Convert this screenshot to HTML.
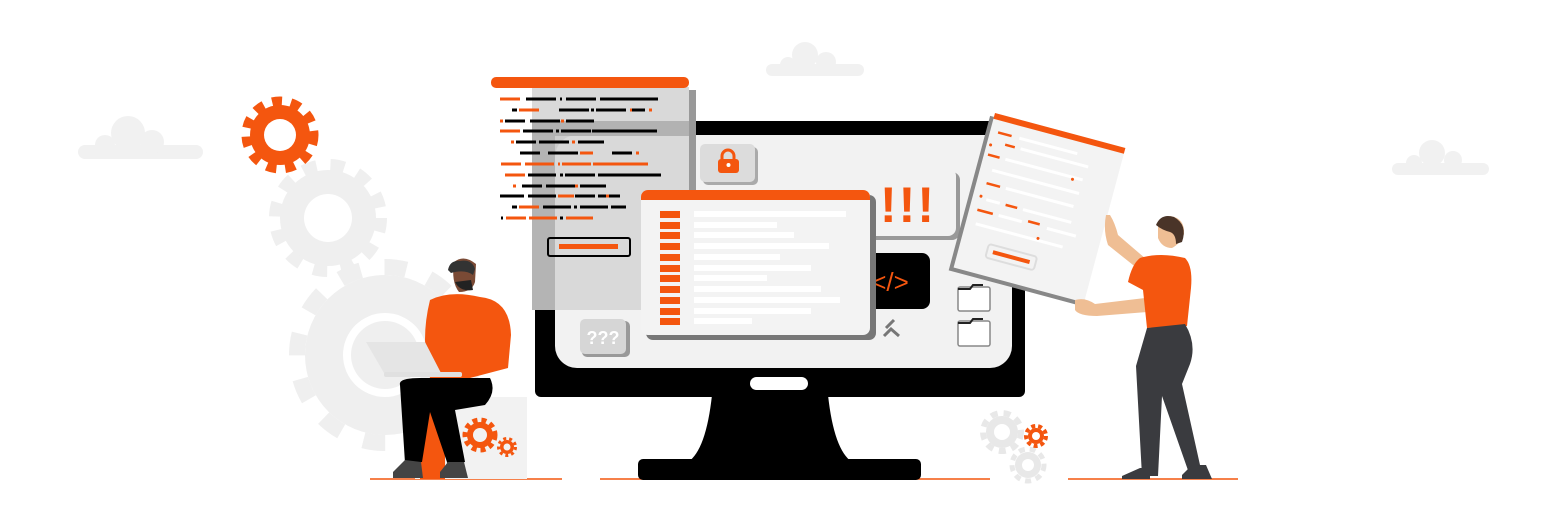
<!DOCTYPE html>
<html><head><meta charset="utf-8"><style>html,body{margin:0;padding:0;background:#fff}svg{display:block}</style></head>
<body>
<svg width="1560" height="511" viewBox="0 0 1560 511" xmlns="http://www.w3.org/2000/svg" font-family="Liberation Sans, sans-serif">
<!-- clouds -->
<g fill="#f1f1f1">
<rect x="78" y="145" width="125" height="14" rx="7"/><circle cx="128" cy="133" r="17"/><circle cx="105" cy="145" r="10"/><circle cx="152" cy="142" r="12"/>
<rect x="766" y="64" width="98" height="12" rx="6"/><circle cx="805" cy="55" r="13"/><circle cx="826" cy="62" r="10"/><circle cx="788" cy="65" r="8"/>
<rect x="1392" y="163" width="97" height="12" rx="6"/><circle cx="1432" cy="153" r="13"/><circle cx="1453" cy="160" r="9"/><circle cx="1414" cy="163" r="8"/>
</g>
<!-- gray gears -->
<g fill="#efefef">
<circle cx="385" cy="355" r="80"/><circle cx="385" cy="355" r="88" fill="none" stroke="#efefef" stroke-width="16" stroke-dasharray="22 24"/>
<circle cx="328" cy="218" r="48"/><circle cx="328" cy="218" r="53" fill="none" stroke="#efefef" stroke-width="12" stroke-dasharray="14 14"/>
</g>
<circle cx="385" cy="355" r="42" fill="#fff"/><circle cx="385" cy="355" r="34" fill="#efefef"/>
<circle cx="328" cy="218" r="24" fill="#fff"/>
<!-- orange gear -->
<circle cx="280" cy="135" r="30" fill="#f4560f"/><circle cx="280" cy="135" r="34" fill="none" stroke="#f4560f" stroke-width="9" stroke-dasharray="10 9"/>
<circle cx="280" cy="135" r="16" fill="#fff"/>
<!-- small gears right -->
<circle cx="1002" cy="432" r="16" fill="#e8e8e8"/><circle cx="1002" cy="432" r="19" fill="none" stroke="#e8e8e8" stroke-width="6" stroke-dasharray="7 6"/><circle cx="1002" cy="432" r="8" fill="#fff"/>
<circle cx="1028" cy="465" r="13" fill="#e8e8e8"/><circle cx="1028" cy="465" r="16" fill="none" stroke="#e8e8e8" stroke-width="5" stroke-dasharray="6 5"/><circle cx="1028" cy="465" r="6" fill="#fff"/>
<circle cx="1036" cy="436" r="8" fill="#f4560f"/><circle cx="1036" cy="436" r="10" fill="none" stroke="#f4560f" stroke-width="4" stroke-dasharray="4 3"/><circle cx="1036" cy="436" r="4" fill="#fff"/>
<!-- ground lines -->
<g stroke="#f4560f" stroke-width="1.5"><line x1="370" y1="479" x2="562" y2="479"/><line x1="600" y1="479" x2="990" y2="479"/><line x1="1068" y1="479" x2="1238" y2="479"/></g>
<!-- monitor -->
<path d="M712 395 L828 395 Q834 450 852 462 L688 462 Q706 450 712 395Z" fill="#000"/>
<rect x="638" y="459" width="283" height="21" rx="5" fill="#000"/>
<rect x="535" y="121" width="490" height="276" rx="6" fill="#000"/>
<rect x="555" y="135" width="457" height="233" rx="22" fill="#f2f2f2"/>
<rect x="750" y="377" width="58" height="13" rx="6.5" fill="#fff"/>
<!-- lock box -->
<rect x="703" y="147" width="55" height="38" rx="5" fill="#aaa"/>
<rect x="700" y="144" width="55" height="38" rx="5" fill="#dcdcdc"/>
<path d="M722 160 v-4 a6 6 0 0 1 12 0 v4" fill="none" stroke="#f4560f" stroke-width="3"/>
<rect x="718" y="159" width="21" height="14" rx="3" fill="#f4560f"/><circle cx="728.5" cy="165" r="2" fill="#fff"/>
<!-- !!! box -->
<rect x="864" y="172" width="96" height="68" rx="8" fill="#999"/>
<rect x="860" y="168" width="96" height="68" rx="8" fill="#f2f2f2"/>
<text x="908" y="222" font-size="50" font-weight="bold" fill="#f4560f" text-anchor="middle" letter-spacing="2">!!!</text>
<!-- code box -->
<rect x="845" y="253" width="85" height="56" rx="8" fill="#000"/>
<text x="890" y="291" font-size="26" fill="#f4560f" text-anchor="middle">&lt;/&gt;</text>
<!-- folders -->
<rect x="958" y="287" width="32" height="24" rx="2" fill="#fff" stroke="#888" stroke-width="1.5"/><path d="M958 289 h12 l3 -4 h10" stroke="#222" stroke-width="2" fill="none"/>
<rect x="958" y="321" width="32" height="25" rx="2" fill="#fff" stroke="#888" stroke-width="1.5"/><path d="M958 323 h12 l3 -4 h10" stroke="#222" stroke-width="2" fill="none"/>
<path d="M886 328 l8 -8 M884 336 l7 -7 l8 7" stroke="#777" stroke-width="3" fill="none"/>
<!-- ??? box -->
<rect x="582" y="321" width="48" height="36" rx="5" fill="#999"/>
<rect x="580" y="319" width="46" height="35" rx="5" fill="#d6d6d6"/>
<text x="603" y="344" font-size="18" font-weight="bold" fill="#fff" text-anchor="middle">???</text>
<!-- left code panel -->
<rect x="689" y="90" width="7" height="222" fill="#999"/>
<rect x="532" y="87" width="157" height="223" fill="#d7d7d7" opacity="0.95"/>
<rect x="532" y="121" width="157" height="15" fill="#b2b2b2"/>
<rect x="532" y="136" width="23" height="174" fill="#b4b4b4"/>
<rect x="491" y="77" width="198" height="11" rx="5" fill="#f4560f"/>
<g stroke-width="3">
<path d="M500 99h20 M526 99h30 M560 99h2 M566 99h30 M600 99h58" stroke="#000"/><path d="M500 99h20" stroke="#f4560f"/>
<path d="M512 110h5 M559 110h30 M591 110h3 M596 110h30 M630 110h15" stroke="#000"/><path d="M519 110h20 M630 110h2 M649 110h3" stroke="#f4560f"/>
<path d="M505 121h20 M530 121h30 M566 121h28" stroke="#000"/><path d="M500 121h3 M561 121h3" stroke="#f4560f"/>
<path d="M523 131h30 M556 131h3 M561 131h30 M592 131h65" stroke="#000"/><path d="M500 131h20" stroke="#f4560f"/>
<path d="M516 142h20 M539 142h30 M578 142h26" stroke="#000"/><path d="M511 142h3 M572 142h3" stroke="#f4560f"/>
<path d="M520 153h20 M548 153h30 M612 153h20" stroke="#000"/><path d="M580 153h13 M636 153h3" stroke="#f4560f"/>
<path d="M501 164h20 M525 164h29 M558 164h2 M562 164h29 M593 164h55" stroke="#f4560f"/>
<path d="M528 175h28 M560 175h3 M565 175h30 M598 175h63" stroke="#000"/><path d="M505 175h20" stroke="#f4560f"/>
<path d="M522 186h20 M546 186h29 M580 186h26" stroke="#000"/><path d="M513 186h3 M575 186h3" stroke="#f4560f"/>
<path d="M500 196h24 M528 196h28 M575 196h20 M598 196h22" stroke="#000"/><path d="M558 196h16 M606 196h3" stroke="#f4560f"/>
<path d="M512 207h5 M543 207h28 M574 207h3 M580 207h28 M611 207h15" stroke="#000"/><path d="M519 207h20" stroke="#f4560f"/>
<path d="M501 218h2 M560 218h3" stroke="#000"/><path d="M506 218h20 M529 218h28 M566 218h27" stroke="#f4560f"/>
</g>
<rect x="548" y="238" width="82" height="18" rx="2" fill="none" stroke="#000" stroke-width="2"/>
<rect x="559" y="244" width="59" height="5" fill="#f4560f"/>
<!-- center window -->
<rect x="646" y="195" width="230" height="145" rx="7" fill="#777"/>
<rect x="641" y="190" width="229" height="145" rx="7" fill="#f3f3f3"/>
<path d="M641 200 v-3 a7 7 0 0 1 7 -7 h215 a7 7 0 0 1 7 7 v3z" fill="#f4560f"/>
<g fill="#f4560f">
<rect x="660" y="211" width="20" height="7"/><rect x="660" y="222" width="20" height="7"/><rect x="660" y="232" width="20" height="7"/><rect x="660" y="243" width="20" height="7"/><rect x="660" y="254" width="20" height="7"/><rect x="660" y="265" width="20" height="7"/><rect x="660" y="275" width="20" height="7"/><rect x="660" y="286" width="20" height="7"/><rect x="660" y="297" width="20" height="7"/><rect x="660" y="308" width="20" height="7"/><rect x="660" y="318" width="20" height="7"/>
</g>
<g fill="#fff">
<rect x="694" y="211" width="152" height="6"/><rect x="694" y="222" width="83" height="6"/><rect x="694" y="232" width="100" height="6"/><rect x="694" y="243" width="135" height="6"/><rect x="694" y="254" width="86" height="6"/><rect x="694" y="265" width="117" height="6"/><rect x="694" y="275" width="73" height="6"/><rect x="694" y="286" width="127" height="6"/><rect x="694" y="297" width="146" height="6"/><rect x="694" y="308" width="117" height="6"/><rect x="694" y="318" width="58" height="6"/>
</g>
<!-- right paper -->
<g transform="translate(995,113) rotate(15)">
<rect x="-4" y="4" width="135" height="160" fill="#888"/>
<rect x="0" y="0" width="135" height="160" fill="#f3f3f3"/>
<rect x="0" y="0" width="135" height="6" fill="#f4560f"/>
<g stroke="#f4560f" stroke-width="2.5"><path d="M8 18h14 M18 28h10 M4 42h12 M10 70h14 M34 86h12 M8 98h16 M60 96h12"/></g>
<g stroke="#fff" stroke-width="3"><path d="M30 18h60 M34 28h70 M22 42h80 M12 56h90 M30 70h70 M14 86h14 M52 86h50 M30 98h24 M80 98h30 M10 112h90"/></g>
<g fill="#f4560f"><circle cx="4" cy="32" r="1.5"/><circle cx="92" cy="44" r="1.5"/><circle cx="8" cy="84" r="1.5"/><circle cx="74" cy="110" r="1.5"/></g>
<rect x="28" y="128" width="50" height="14" rx="3" fill="none" stroke="#ddd" stroke-width="2"/>
<rect x="34" y="133" width="38" height="4" fill="#f4560f"/>
</g>
<!-- stool -->
<rect x="415" y="397" width="112" height="82" fill="#f2f2f2"/>
<rect x="420" y="400" width="25" height="79" fill="#f4560f"/>
<circle cx="480" cy="435" r="13" fill="#f4560f"/><circle cx="480" cy="435" r="15" fill="none" stroke="#f4560f" stroke-width="5" stroke-dasharray="5 4"/><circle cx="480" cy="435" r="7" fill="#f2f2f2"/>
<circle cx="507" cy="447" r="7" fill="#f4560f"/><circle cx="507" cy="447" r="8.5" fill="none" stroke="#f4560f" stroke-width="3" stroke-dasharray="3 3"/><circle cx="507" cy="447" r="3.5" fill="#f2f2f2"/>
<!-- sitting man -->
<path d="M400 385 Q398 378 420 378 L490 378 Q497 392 485 405 L455 410 L465 462 L448 465 L430 412 L422 462 L405 463Z" fill="#000"/>
<path d="M405 460 l-12 12 l0 6 l30 0 l-2 -16z M448 462 l-8 10 l0 6 l28 0 l-4 -16z" fill="#444"/>
<path d="M430 300 Q450 290 480 297 Q510 300 511 335 L508 368 L470 378 L430 378 Q420 340 430 300Z" fill="#f4560f"/>
<path d="M454 262 q10 -8 22 2 l-1 18 q-3 10 -16 10 q-8 -10 -5 -30z" fill="#7a4a35"/>
<path d="M448 270 q2 -10 12 -9 q12 -2 15 8 l-2 6 q-8 -6 -22 -2z" fill="#333"/>
<path d="M455 282 q5 10 18 8 l-2 -10z" fill="#222"/>
<path d="M366 342 L425 342 L441 373 L384 373Z" fill="#e5e5e5"/>
<rect x="384" y="372" width="78" height="5" rx="2" fill="#e0e0e0"/>
<!-- standing man -->
<path d="M1110 215 q5 8 8 20 l35 30 l-5 12 l-40 -32 q-5 -15 -2 -30z" fill="#efbe94"/>
<path d="M1158 228 q0 -10 12 -12 q15 2 14 18 q-4 10 -12 14 q-10 0 -14 -10z" fill="#efbe94"/>
<path d="M1156 225 q5 -12 18 -8 q14 8 8 25 l-6 2 q0 -10 -6 -12 q-8 -2 -14 -7z" fill="#4a3428"/>
<path d="M1075 300 q10 -3 20 4 l50 -6 l2 14 l-50 4 q-18 0 -22 -6z" fill="#efbe94"/>
<path d="M1140 258 q20 -6 45 0 q8 8 6 30 l-4 38 l-40 2 l-4 -38 l-15 -8 q4 -18 12 -24z" fill="#f4560f"/>
<path d="M1147 328 l38 -4 q12 20 5 40 l-8 20 l20 90 l-12 2 l-28 -80 l-4 80 l-16 0 l-6 -110z" fill="#3a3b3f"/>
<path d="M1140 468 l-18 8 l0 3 l28 0 l0 -11z M1192 465 l-10 10 l0 4 l30 0 l-6 -14z" fill="#3a3b3f"/>
</svg>
</body></html>
